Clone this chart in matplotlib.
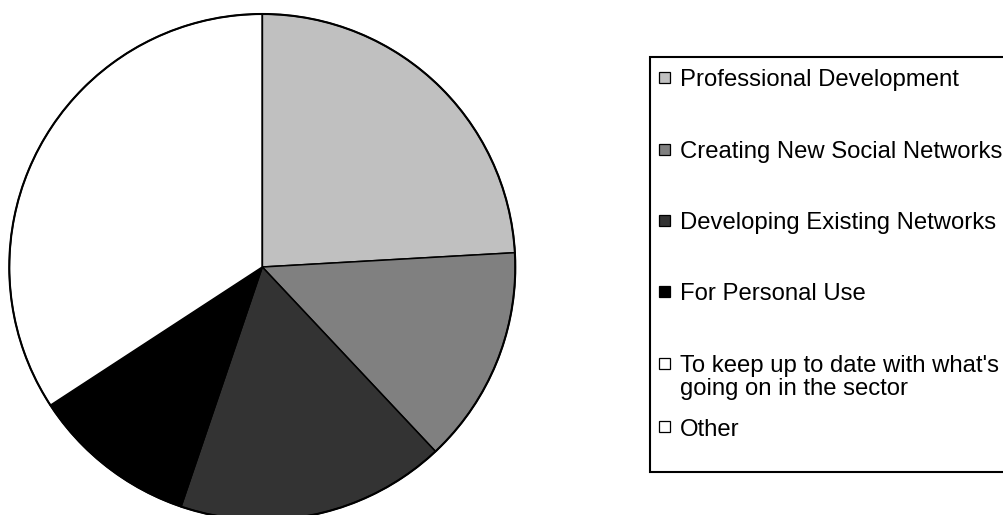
"""
Pie chart of reasons for using social networks, with a boxed legend on the right.

Output:
    out.png
"""

import matplotlib.pyplot as plt
from matplotlib.patches import Rectangle


OUTPUT_FIGURE = "out.png"

FIG_W_PX = 1004
FIG_H_PX = 515
DPI = 100

CATEGORIES = [
    "Professional Development",
    "Creating New Social Networks",
    "Developing Existing Networks",
    "For Personal Use",
    "To keep up to date with what's\ngoing on in the sector",
    "Other",
]

SHARES = [24.1, 13.9, 17.2, 10.6, 34.2, 0.0]

COLORS = ["#C0C0C0", "#808080", "#333333", "#000000", "#FFFFFF", "#FFFFFF"]

# legend entry centres (pixels from top) - layout only
LEGEND_ROWS_Y = [77, 149, 220, 291, 363, 426.5]

LINE_PX = 23.5

plt.rcParams["font.family"] = ["Liberation Sans", "DejaVu Sans"]


def fx(px):
    return px / FIG_W_PX


def fy(py):
    # pixels from top -> figure fraction from bottom
    return 1 - py / FIG_H_PX


def draw_pie(fig):
    cx, cy, r = 262.3, 267.0, 253.0
    ax = fig.add_axes([fx(cx - r), fy(cy + r), (2 * r) / FIG_W_PX, (2 * r) / FIG_H_PX])

    wedges, _ = ax.pie(
        SHARES,
        colors=COLORS,
        startangle=90,
        counterclock=False,
        radius=1.0,
        wedgeprops={"edgecolor": "black", "linewidth": 1.1},
    )
    for w in wedges:
        w.set_clip_on(False)

    # heavier outer rim
    rim = plt.Circle((0, 0), 1.0, fill=False, edgecolor="black", linewidth=1.5, clip_on=False)
    ax.add_patch(rim)

    ax.set_xlim(-1, 1)
    ax.set_ylim(-1, 1)
    ax.axis("off")


def draw_legend(fig):
    left, top, bottom = 650, 57, 472
    box = Rectangle(
        (fx(left), fy(bottom)),
        fx(FIG_W_PX + 20 - left),
        (bottom - top) / FIG_H_PX,
        transform=fig.transFigure,
        facecolor="white",
        edgecolor="black",
        linewidth=1.5,
        clip_on=False,
    )
    fig.add_artist(box)

    size = 11
    for label, color, yc in zip(CATEGORIES, COLORS, LEGEND_ROWS_Y):
        marker = Rectangle(
            (fx(664.5 - size / 2), fy(yc + size / 2)),
            size / FIG_W_PX,
            size / FIG_H_PX,
            transform=fig.transFigure,
            facecolor=color,
            edgecolor="black",
            linewidth=0.9,
        )
        fig.add_artist(marker)

        # one text per line so the first line sits next to the marker
        for k, line in enumerate(label.split("\n")):
            fig.text(
                fx(680),
                fy(yc + 9 + k * LINE_PX),
                line,
                fontsize=17.2,
                ha="left",
                va="baseline",
                color="black",
            )


def main():
    fig = plt.figure(figsize=(FIG_W_PX / DPI, FIG_H_PX / DPI), dpi=DPI)
    fig.patch.set_facecolor("white")

    draw_pie(fig)
    draw_legend(fig)

    fig.savefig(OUTPUT_FIGURE, dpi=DPI, facecolor="white")
    plt.close(fig)


if __name__ == "__main__":
    main()
